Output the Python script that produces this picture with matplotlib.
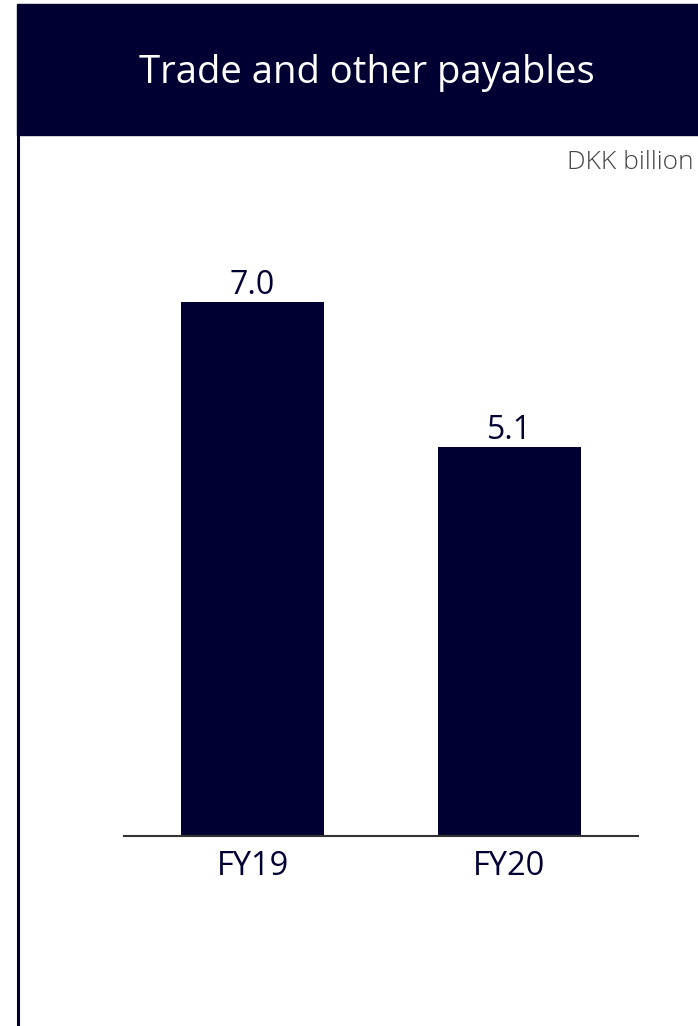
import matplotlib.pyplot as plt
from matplotlib.patches import Rectangle
from matplotlib.lines import Line2D

plt.rcParams['font.family'] = ['Open Sans', 'DejaVu Sans']

categories = ["FY19", "FY20"]
values = [7.0, 5.1]
labels = ["7.0", "5.1"]

navy = "#000033"

W, H = 698, 1026
fig = plt.figure(figsize=(W / 100, H / 100), dpi=100)

# header band and left rule
fig.patches.append(Rectangle((17 / W, 1 - 135 / H), 1 - 17 / W, 131 / H,
                             transform=fig.transFigure, color=navy, zorder=0))
fig.lines.append(Line2D([18 / W, 18 / W], [0, 1 - 135 / H],
                        transform=fig.transFigure, color=navy, lw=2.2))
fig.text(366.5 / W, 1 - 83 / H, "Trade and other payables", color="white",
         fontsize=27.5, ha="center", va="baseline")
fig.text(694 / W, 1 - 169 / H, "DKK billion", color="#444444",
         fontsize=19, ha="right", va="baseline", fontweight="light")

ax = fig.add_axes([124 / W, 190 / H, 514 / W, 686 / H])
x = range(len(categories))
ax.bar(x, values, width=0.555, color=navy)
for xi, v, lab in zip(x, values, labels):
    ax.annotate(lab, (xi, v), xytext=(0, 6), textcoords="offset points",
                ha="center", va="baseline", fontsize=23, color=navy)
ax.set_xlim(-0.5, 1.5)
ax.set_ylim(0, 9.0)
ax.set_xticks(list(x))
ax.set_xticklabels(categories, fontsize=23.5, color=navy)
ax.tick_params(axis="x", length=0, pad=10)
ax.set_yticks([])
for s in ["top", "right", "left"]:
    ax.spines[s].set_visible(False)
ax.spines["bottom"].set_color("#333333")
ax.spines["bottom"].set_linewidth(1.5)

fig.savefig("out.png", dpi=100)
